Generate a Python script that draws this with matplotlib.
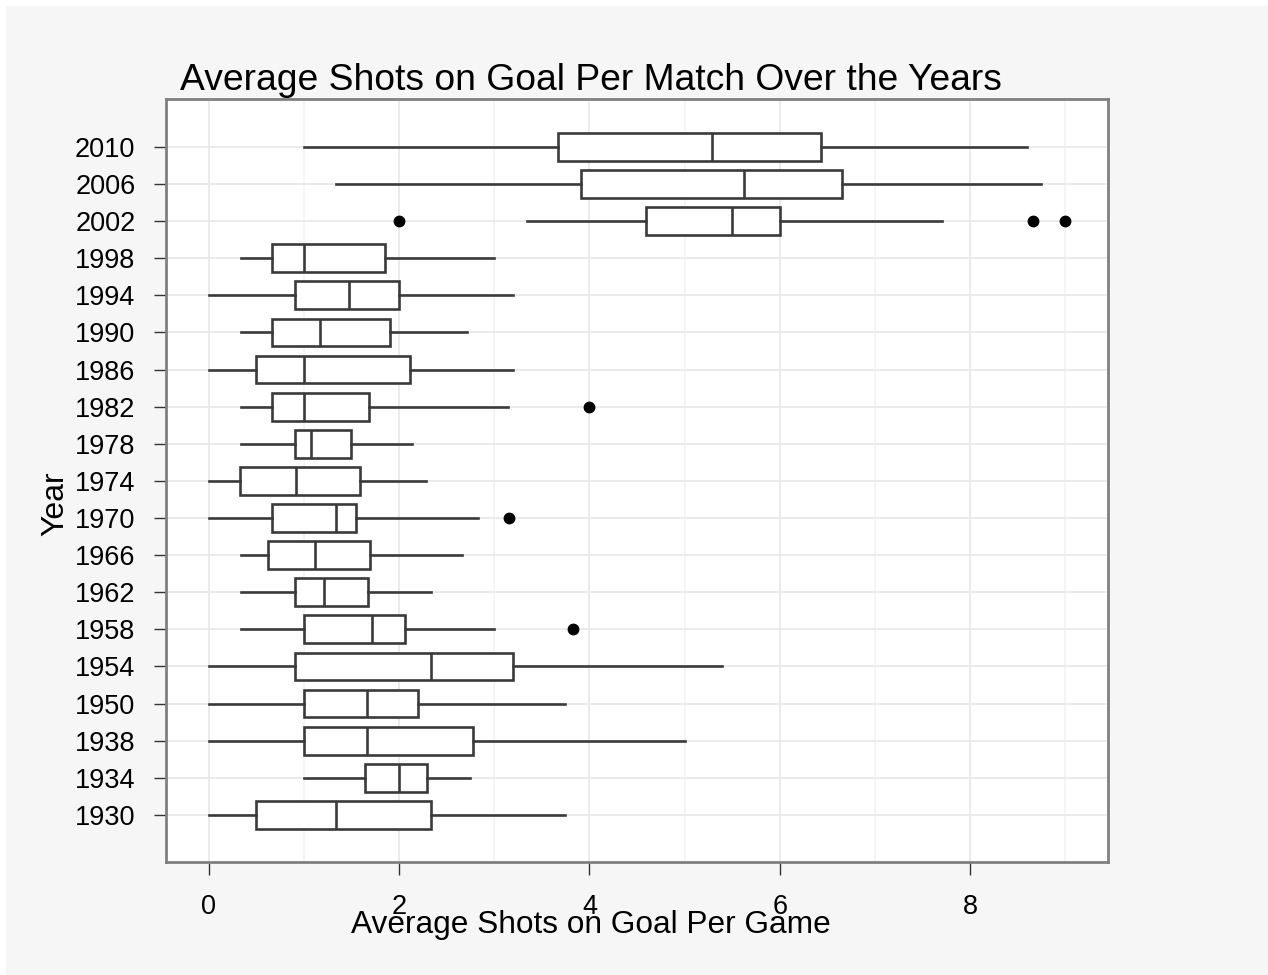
import matplotlib
matplotlib.use("Agg")
import matplotlib.pyplot as plt
from matplotlib.patches import Rectangle

plt.rcParams['font.family'] = ['Liberation Sans', 'DejaVu Sans']

# box statistics per tournament year (shots on goal per game)
years = ["1930", "1934", "1938", "1950", "1954", "1958", "1962", "1966", "1970", "1974",
         "1978", "1982", "1986", "1990", "1994", "1998", "2002", "2006", "2010"]
wlo = [0, 1.0, 0, 0, 0, 0.333, 0.333, 0.333, 0, 0,
       0.333, 0.333, 0, 0.333, 0, 0.333, 3.34, 1.335, 1.0]
q1 = [0.5, 1.64, 1.0, 1.0, 0.91, 1.0, 0.91, 0.62, 0.667, 0.33,
      0.91, 0.667, 0.5, 0.667, 0.91, 0.667, 4.59, 3.915, 3.67]
med = [1.333, 2.0, 1.667, 1.667, 2.33, 1.71, 1.21, 1.12, 1.333, 0.92,
       1.075, 1.0, 1.0, 1.17, 1.47, 1.0, 5.5, 5.62, 5.29]
q3 = [2.34, 2.29, 2.78, 2.2, 3.2, 2.065, 1.67, 1.69, 1.545, 1.59,
      1.49, 1.685, 2.11, 1.9, 2.0, 1.855, 6.0, 6.65, 6.43]
whi = [3.745, 2.75, 5.0, 3.745, 5.39, 3.0, 2.33, 2.66, 2.83, 2.28,
       2.14, 3.14, 3.2, 2.71, 3.2, 3.0, 7.71, 8.75, 8.6]
outliers = [[], [], [], [], [], [3.83], [], [], [3.16], [],
            [], [4.0], [], [], [], [], [2.0, 8.66, 9.0], [], []]

stats = []
for i in range(len(years)):
    stats.append(dict(label=years[i], whislo=wlo[i], q1=q1[i], med=med[i],
                      q3=q3[i], whishi=whi[i], fliers=outliers[i]))

fig = plt.figure(figsize=(12.68, 9.75), dpi=100)
fig.patch.set_facecolor('white')
fig.patches.append(Rectangle((6/1268, 0), 1, 1-6/975, transform=fig.transFigure,
                             facecolor='#f6f6f6', edgecolor='none', zorder=-10))

ax = fig.add_axes([166/1268, 1-862/975, (1108-166)/1268, (862-99)/975])
ax.set_facecolor('white')

line = dict(color='#3a3a3a', linewidth=1.9)
ax.bxp(stats, positions=range(1, len(years)+1), vert=False, widths=0.75,
       showcaps=False, patch_artist=True,
       boxprops=dict(facecolor='white', edgecolor='#3a3a3a', linewidth=1.9),
       whiskerprops=line, medianprops=line,
       flierprops=dict(marker='o', markerfacecolor='black', markeredgecolor='black',
                       markersize=7.5))

ax.set_xlim(-0.45, 9.45)
ax.set_ylim(-0.27, 20.29)
ax.set_xticks([0, 2, 4, 6, 8])
ax.set_xticks([1, 3, 5, 7, 9], minor=True)
ax.set_yticks(range(1, len(years)+1))
ax.set_yticklabels(years)
ax.grid(which='major', color='#e8e8e8', linewidth=1.2)
ax.grid(which='minor', axis='x', color='#f4f4f4', linewidth=1.2)
ax.set_axisbelow(True)
ax.tick_params(axis='both', which='major', labelsize=19.5, length=9, width=1,
               color='#333333', labelcolor='black')
ax.tick_params(axis='y', pad=13)
ax.tick_params(axis='x', pad=14)
ax.tick_params(which='minor', length=0)
for s in ax.spines.values():
    s.set_color('#808080')
    s.set_linewidth(2)

fig.text(591/1268, 1-90/975, "Average Shots on Goal Per Match Over the Years",
         ha='center', va='baseline', fontsize=26.8)
fig.text(591/1268, 1-925/975, "Average Shots on Goal Per Game",
         ha='center', va='center', fontsize=22.8)
fig.text(55/1268, 1-504/975, "Year", rotation=90, ha='center', va='center', fontsize=23)

plt.savefig('out.png', dpi=100)
